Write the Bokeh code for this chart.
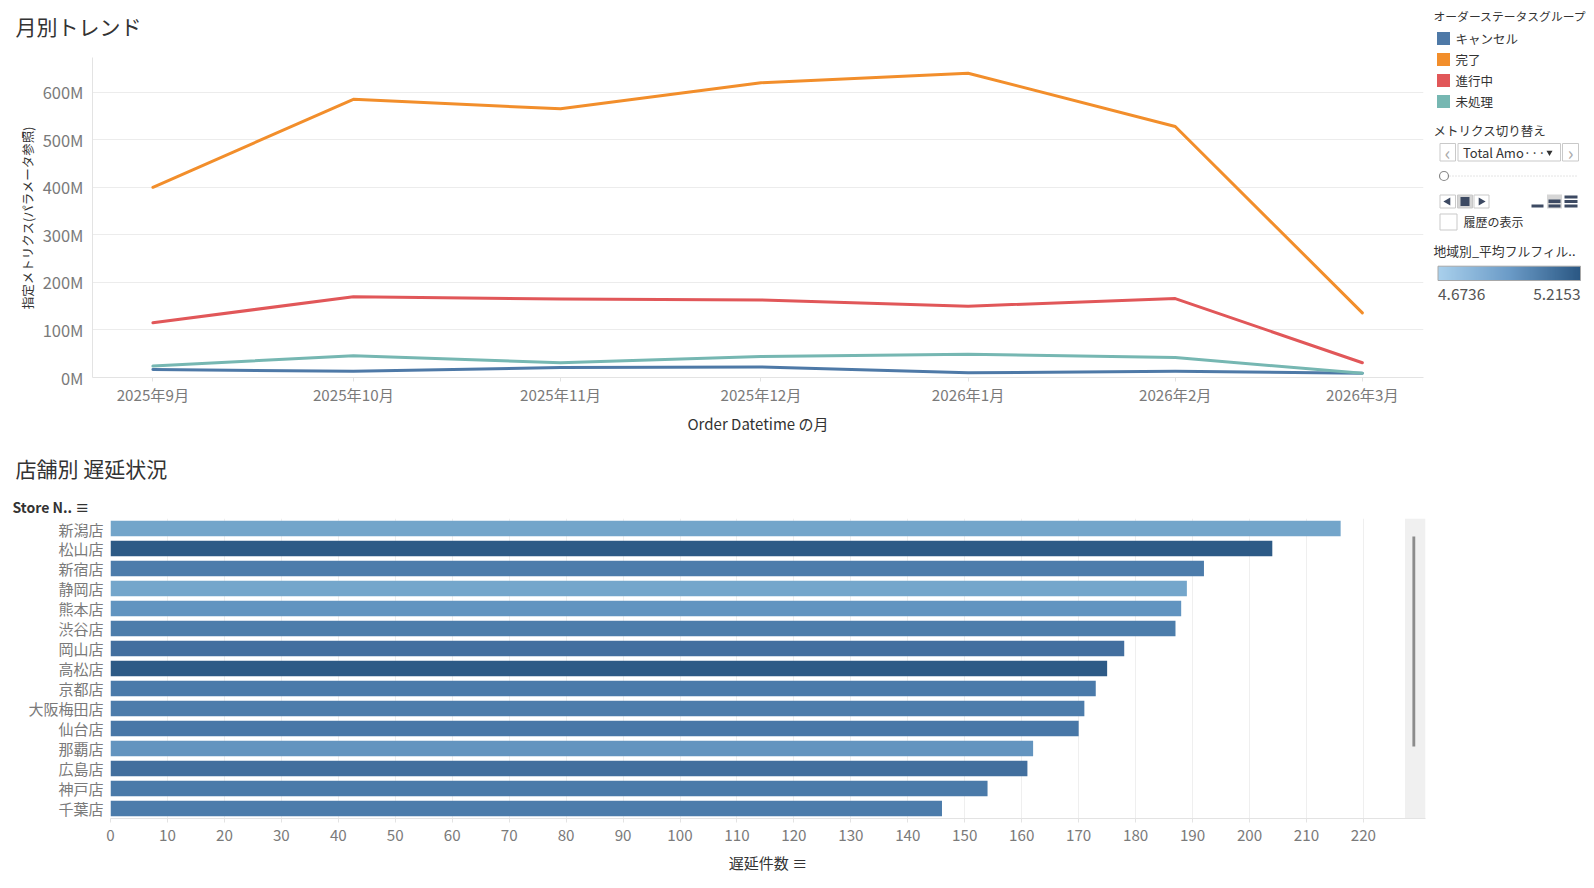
import numpy as np
import pandas as pd
from bokeh.plotting import figure
from bokeh.layouts import column, row
from bokeh.models import Range1d, FixedTicker, PrintfTickFormatter, LinearColorMapper
from bokeh.core.properties import value
from bokeh.embed import file_html
from bokeh.resources import INLINE

FONT = "Noto Sans CJK JP"

# ---------------- data: monthly trend (values in millions) ----------------
months = ["2025-09-01", "2025-10-01", "2025-11-01", "2025-12-01",
          "2026-01-01", "2026-02-01", "2026-03-01"]
month_labels = ["2025年9月", "2025年10月", "2025年11月", "2025年12月",
                "2026年1月", "2026年2月", "2026年3月"]
status_names = ["キャンセル", "完了", "進行中", "未処理"]
status_colors = ["#4e79a7", "#f28e2b", "#e15759", "#76b7b2"]
cancel = [17, 13, 21, 22, 10, 13, 9]
complete = [400, 585, 565, 620, 640, 528, 136]
in_progress = [115, 170, 165, 163, 150, 166, 31]
pending = [24, 46, 31, 44, 49, 42, 9]
y_ticks = [0, 100, 200, 300, 400, 500, 600]

# ---------------- data: delays per store ----------------
stores = ["新潟店", "松山店", "新宿店", "静岡店", "熊本店", "渋谷店", "岡山店", "高松店",
          "京都店", "大阪梅田店", "仙台店", "那覇店", "広島店", "神戸店", "千葉店"]
delays = [216, 204, 192, 189, 188, 187, 178, 175, 173, 171, 170, 162, 161, 154, 146]
store_colors = ["#73a5ca", "#2d5a86", "#4c7cab", "#74a6cb", "#6194c0", "#4c7dab", "#436f9f",
                "#2d5a86", "#4a7aaa", "#4c7cab", "#4877a7", "#6394bf", "#426f9e", "#4a7aa9",
                "#4c7cab"]
bar_ticks = list(range(0, 221, 10))
grad_low, grad_high = 4.6736, 5.2153
grad_stops = ["#a9d0ec", "#6b9bc7", "#2a5783"]

TICK_COLOR = "#7a7a7a"
TITLE_COLOR = "#333333"


def blank(width, height, x0, y0):
    """A figure without axes whose data units are page pixels (y grows downwards)."""
    f = figure(width=width, height=height, output_backend="svg", toolbar_location=None,
               title=None, x_range=Range1d(x0, x0 + width), y_range=Range1d(y0 + height, y0),
               min_border_left=0, min_border_right=0, min_border_top=0, min_border_bottom=0)
    f.frame_align = False
    f.axis.visible = False
    f.grid.visible = False
    f.outline_line_color = None
    return f


def put_text(f, x, y, s, size="12.5px", color=TITLE_COLOR, align="left", style="normal"):
    f.text(x=[x], y=[y], text=[s], text_font=value(FONT), text_font_size=size,
           text_color=color, text_align=align, text_baseline="middle", text_font_style=style)


# ---------------- top: title strip + line chart ----------------
head1 = blank(1429, 45, 0, 0)
put_text(head1, 15, 25, "月別トレンド", size="21px")

dates = pd.to_datetime(months)
xd = [int(v) for v in (dates - dates[0]).days]

top = figure(width=1429, height=400, output_backend="svg", toolbar_location=None,
             title=None, x_range=Range1d(-9.04, 190.15), y_range=Range1d(0, 673),
             min_border_left=92, min_border_right=6, min_border_top=12, min_border_bottom=68)
top.frame_align = False
top.outline_line_color = None

for name, col, vals in zip(status_names, status_colors, [cancel, complete, in_progress, pending]):
    top.line(xd, vals, line_color=col, line_width=3, line_join="round", line_cap="round")

top.xgrid.grid_line_color = None
top.ygrid.grid_line_color = "#ececec"
top.ygrid.ticker = FixedTicker(ticks=y_ticks)

top.xaxis.ticker = FixedTicker(ticks=xd)
top.xaxis.major_label_overrides = {x: l for x, l in zip(xd, month_labels)}
top.xaxis.axis_label = "Order Datetime の月"
top.yaxis.ticker = FixedTicker(ticks=y_ticks)
top.yaxis.formatter = PrintfTickFormatter(format="%dM")
top.yaxis.axis_label = "指定メトリクス(パラメータ参照)"

for ax in (top.xaxis, top.yaxis):
    ax.axis_line_color = "#e3e3e3"
    ax.major_tick_line_color = "#e3e3e3"
    ax.minor_tick_line_color = None
    ax.major_label_text_font = FONT
    ax.major_label_text_color = TICK_COLOR
    ax.axis_label_text_font = FONT
    ax.axis_label_text_font_style = "normal"
    ax.axis_label_text_color = TITLE_COLOR
top.xaxis.major_tick_out = 4
top.xaxis.major_tick_in = 0
top.xaxis.major_label_standoff = 1
top.xaxis.major_label_text_font_size = "15.2px"
top.xaxis.axis_label_text_font_size = "15px"
top.xaxis.axis_label_standoff = 5
top.yaxis.major_tick_out = 0
top.yaxis.major_tick_in = 0
top.yaxis.major_label_standoff = 9
top.yaxis.major_label_text_font_size = "16.5px"
top.yaxis.axis_label_text_font_size = "12.5px"
top.yaxis.axis_label_standoff = 3

# ---------------- side panel (legend & controls), coordinates in page pixels ----------------
side = blank(157, 445, 1429, 0)

put_text(side, 1433, 15, "オーダーステータスグループ", size="11.8px")
sw_y = [38 + 21 * i for i in range(len(status_names))]
side.rect(x=[1443] * len(status_names), y=sw_y, width=13, height=13,
          fill_color=status_colors, line_color=None)
side.text(x=[1455] * len(status_names), y=sw_y, text=status_names, text_font=value(FONT),
          text_font_size="12.5px", text_color=TITLE_COLOR, text_baseline="middle")

put_text(side, 1433, 130, "メトリクス切り替え")
# dropdown
side.quad(left=[1439.5, 1457.5, 1562], right=[1455, 1560, 1578], top=[143, 143, 143],
          bottom=[160.5, 160.5, 160.5], fill_color="white", line_color="#c9c9c9")
put_text(side, 1447, 151, "‹", size="19px", color="#aaaaaa", align="center")
put_text(side, 1570, 151, "›", size="19px", color="#aaaaaa", align="center")
put_text(side, 1462.5, 152, "Total Amo···", size="13px")
side.scatter(x=[1549], y=[152], marker="inverted_triangle", size=6, fill_color="#333333",
             line_color=None)
# slider
side.line(x=[1443, 1578], y=[175.5, 175.5], line_color="#c8c8c8", line_dash="1 2", line_width=1)
side.scatter(x=[1443.5], y=[175.5], marker="circle", size=9, fill_color="white",
             line_color="#888888", line_width=1.2)
# playback buttons
side.quad(left=[1439.5, 1457, 1473.5], right=[1455, 1472, 1488.5], top=[194.5, 194.5, 194.5],
          bottom=[207.5, 207.5, 207.5], fill_color=["white", "#d6d6d6", "white"],
          line_color="#c9c9c9")
side.scatter(x=[1447.5, 1480.5], y=[201, 201], marker="triangle", size=8,
             angle=[np.pi / 2, -np.pi / 2], fill_color="#3d4a63", line_color=None)
side.quad(left=[1460], right=[1469], top=[196.5], bottom=[205.5], fill_color="#3d4a63",
          line_color=None)
# speed buttons
side.quad(left=[1530, 1546.5, 1563], right=[1543.5, 1561.5, 1578.5], top=[194, 194, 194],
          bottom=[208, 208, 208], fill_color=["white", "#d6d6d6", "white"], line_color=None)
side.quad(left=[1531, 1548, 1548, 1564, 1564, 1564], right=[1543, 1560, 1560, 1577, 1577, 1577],
          top=[204, 199, 204, 195, 199.5, 204], bottom=[207, 202.5, 207, 198, 202.5, 207],
          fill_color="#3d4a63", line_color=None)
# checkbox
side.quad(left=[1439.5], right=[1456.5], top=[213.5], bottom=[229.5], fill_color="white",
          line_color="#c9c9c9")
put_text(side, 1463, 221, "履歴の表示", size="12px")

put_text(side, 1433, 250, "地域別_平均フルフィル..", size="12.8px")


def _interp(stops, n):
    rgb = np.array([[int(c[i:i + 2], 16) for i in (1, 3, 5)] for c in stops], dtype=float)
    pos = np.linspace(0, 1, len(stops))
    t = np.linspace(0, 1, n)
    out = np.stack([np.interp(t, pos, rgb[:, k]) for k in range(3)], axis=1)
    return ["#%02x%02x%02x" % tuple(int(round(v)) for v in r) for r in out]


mapper = LinearColorMapper(palette=_interp(grad_stops, 256), low=grad_low, high=grad_high)
side.image(image=[np.linspace(grad_low, grad_high, 256)[None, :]], x=1437.5, y=265.7,
           dw=142.5, dh=14.3, color_mapper=mapper)
side.quad(left=[1437.5], right=[1580], top=[265.7], bottom=[280], fill_color=None,
          line_color="#a8a8a8")
put_text(side, 1437.5, 293.5, f"{grad_low:.4f}", size="15.5px", color="#555555")
put_text(side, 1580, 293.5, f"{grad_high:.4f}", size="15.5px", color="#555555", align="right")

# ---------------- bottom: title strip + bar chart ----------------
head2 = blank(1429, 73, 0, 445)
put_text(head2, 15, 467.5, "店舗別 遅延状況", size="21px")
put_text(head2, 12, 506.5, "Store N.. ≡", size="14px", style="bold")

n = len(stores)
ypos = [n - 1 - i for i in range(n)]
bx1 = 230.9
bars = figure(width=1429, height=359, output_backend="svg", toolbar_location=None, title=None,
              x_range=Range1d(0, bx1), y_range=Range1d(-0.5, n - 0.5),
              min_border_left=110, min_border_right=4, min_border_top=0, min_border_bottom=59)
bars.frame_align = False
bars.outline_line_color = None

# scrollbar area
bars.quad(left=[227.3], right=[bx1], bottom=[-0.5], top=[n - 0.5], fill_color="#f0f0f0",
          line_color=None)
bars.quad(left=[228.6], right=[229.1], bottom=[3.1], top=[13.6], fill_color="#8c8c8c",
          line_color=None)

bars.hbar(y=ypos, right=delays, left=0, height=0.765, fill_color=store_colors, line_color=None)

bars.ygrid.grid_line_color = None
bars.xgrid.grid_line_color = "#efefef"
bars.xgrid.ticker = FixedTicker(ticks=bar_ticks)
bars.xaxis.ticker = FixedTicker(ticks=bar_ticks)
bars.xaxis.axis_label = "遅延件数 ≡"
bars.yaxis.ticker = FixedTicker(ticks=ypos)
bars.yaxis.major_label_overrides = {y: s for y, s in zip(ypos, stores)}
for ax in (bars.xaxis, bars.yaxis):
    ax.major_label_text_font = FONT
    ax.major_label_text_color = TICK_COLOR
    ax.axis_label_text_font = FONT
    ax.axis_label_text_font_style = "normal"
    ax.axis_label_text_color = TITLE_COLOR
    ax.minor_tick_line_color = None
bars.xaxis.axis_line_color = "#e3e3e3"
bars.xaxis.major_tick_line_color = "#e3e3e3"
bars.xaxis.major_tick_out = 4
bars.xaxis.major_tick_in = 0
bars.xaxis.major_label_standoff = 7
bars.xaxis.major_label_text_font_size = "15.2px"
bars.xaxis.axis_label_text_font_size = "15px"
bars.xaxis.axis_label_standoff = 8
bars.yaxis.axis_line_color = None
bars.yaxis.major_tick_line_color = None
bars.yaxis.major_tick_out = 0
bars.yaxis.major_tick_in = 0
bars.yaxis.major_label_standoff = 7
bars.yaxis.major_label_text_font_size = "15px"

layout = column(row(column(head1, top), side), column(head2, bars))
open("out.html", "w").write(file_html(layout, INLINE))
